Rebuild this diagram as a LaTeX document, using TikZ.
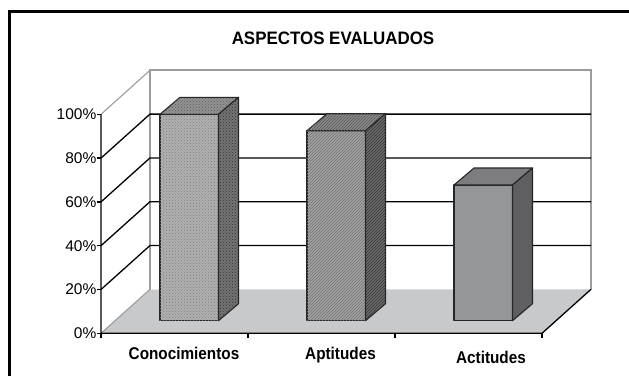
\documentclass[tikz,border=0pt]{standalone}
\usepackage{fontspec}
\setmainfont{Liberation Sans}
\usetikzlibrary{patterns}

\definecolor{floorgray}{HTML}{C8C9CB}
\definecolor{wallgray}{HTML}{9C9C9C}
\definecolor{conoFront}{HTML}{B0B0B0}
\definecolor{conoTop}{HTML}{929292}
\definecolor{conoSide}{HTML}{747474}
\definecolor{aptiFront}{HTML}{A2A2A2}
\definecolor{aptiTop}{HTML}{8A8A8A}
\definecolor{aptiSide}{HTML}{6C6C6C}
\definecolor{actiFront}{HTML}{959698}
\definecolor{actiTop}{HTML}{7D7D7F}
\definecolor{actiSide}{HTML}{5F5F61}

% one 3d bar: left x, top y, front / top / side looks
\newcommand{\barra}[5]{%
	\draw[bar, #3] (#1,320.7) rectangle ++(58.5,{#2-320.7});
	\draw[bar, #4] (#1,#2) -- ++(20,-17) -- ++(58.5,0) -- ++(-20,17) -- cycle;
	\draw[bar, #5] ({#1+58.5},#2) -- ++(20,-17) -- ++(0,{320.7-#2}) -- ++(-20,17) -- cycle;
}

\begin{document}
\begin{tikzpicture}[x=1pt, y=-1pt,
		bar/.style={draw=black!85, line width=1.1pt, line join=round},
		gridline/.style={draw=black, line width=1.3pt},
		walledge/.style={draw=wallgray, line width=1.1pt},
		ylab/.style={anchor=east, inner sep=0pt, font=\fontsize{15.5}{16}\selectfont},
		catlab/.style={inner sep=0pt, xscale=0.9, font=\bfseries\fontsize{17}{18}\selectfont}]
	\useasboundingbox (0,0) rectangle (629,376);
	\def\xL{101};
	\def\xR{542};
	\def\yB{333.3};
	\def\dX{49};
	\def\dY{-44};
	\def\st{43.8};

	% frame
	\draw[line width=3pt] (9.5,376) -- (9.5,11.5) -- (629,11.5);
	\node[xscale=0.94, font=\bfseries\fontsize{18}{19}\selectfont] (title) at (333,38) {ASPECTOS EVALUADOS};

	% walls and floor
	\begin{scope}
		\draw[walledge, fill=white] (150,289.5) -- (150,70) -- (591,70) -- (591,289.5);
		\draw[walledge] (\xL,{\yB-5*\st}) -- ++(\dX,\dY);
		\fill[floorgray] (\xL,\yB) -- (\xR,\yB) -- ++(\dX,\dY) -- (150,289.5) -- cycle;
		\draw[walledge] (\xL,\yB) -- ++(\dX,\dY);
		\foreach \k in {1,...,4}
			\draw[gridline] (\xL,{\yB-\k*\st}) -- ++(\dX,\dY) -- (591,{\yB-\k*\st+\dY});
	\end{scope}

	% axes
	\begin{scope}[line width=1.3pt]
		\draw (\xL,{\yB-5*\st}) -- (\xL,\yB) -- (\xR,\yB) -- ++(\dX,\dY);
		\foreach \k/\pc in {0/0,1/20,2/40,3/60,4/80,5/100}
			\draw (\xL,{\yB-\k*\st}) -- ++(-4,0) node[ylab] (lab\pc) {\pc\%};
		\foreach \xt in {101,248,395,542}
			\draw (\xt,\yB) -- ++(0,5);
	\end{scope}

	% bars
	\barra{160}{114.3}{fill=conoFront, postaction={pattern=crosshatch dots, pattern color=black!50}}{fill=conoTop, postaction={pattern=crosshatch dots, pattern color=black!65}}{fill=conoSide, postaction={pattern=crosshatch dots, pattern color=black!80}}
	\barra{307}{130.7}{fill=aptiFront, postaction={pattern=north east lines, pattern color=black!55}}{fill=aptiTop, postaction={pattern=north east lines, pattern color=black!65}}{fill=aptiSide, postaction={pattern=north east lines, pattern color=black!80}}
	\barra{454}{185}{fill=actiFront}{fill=actiTop}{fill=actiSide}

	\node[catlab] (cono) at (184,353) {Conocimientos};
	\node[catlab] (apti) at (340.5,355) {Aptitudes};
	\node[catlab] (acti) at (491,357) {Actitudes};
\end{tikzpicture}
\end{document}
